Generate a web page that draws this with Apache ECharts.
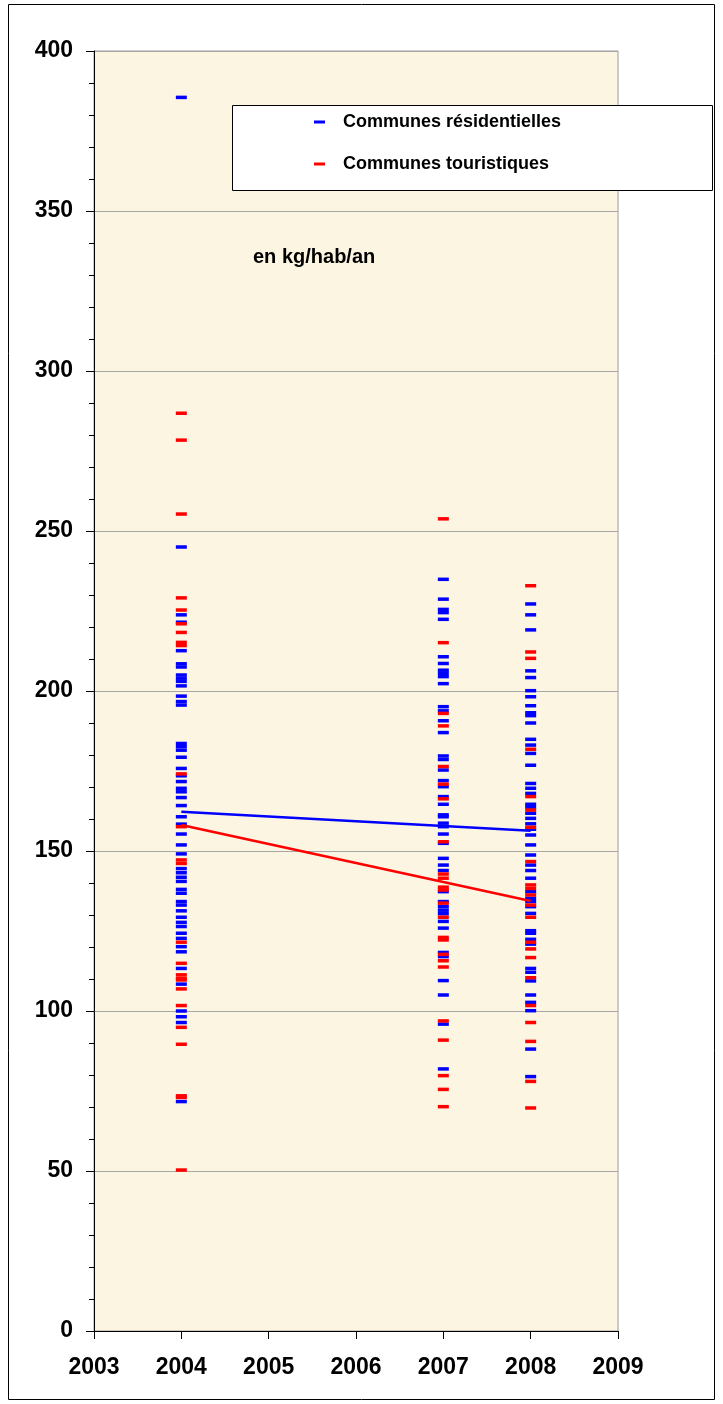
<!DOCTYPE html>
<html>
<head>
<meta charset="utf-8">
<script src="https://cdn.jsdelivr.net/npm/echarts@6/dist/echarts.min.js"></script>
<style>
  html, body { margin: 0; padding: 0; background: #ffffff; }
  #chart { width: 723px; height: 1404px; }
</style>
</head>
<body>
<div id="chart"></div>
<script>
// Household waste per inhabitant (kg/hab/an), one dash per commune
const years = [2004, 2007, 2008];

const residentielles2004 = [385.5, 245, 223.8, 221.5, 212.6, 208.5, 207.5, 205, 204, 203, 201.6, 198.4, 196.7, 195.6,
  183.6, 182.6, 181.5, 179.3, 175.8, 173.5, 171.7, 169.6, 168.5, 166.7, 164.2, 160.7, 158.4, 155.3, 151.9, 149.1,
  144.5, 143.2, 141.8, 140.5, 138, 136.8, 134.2, 133.1, 131.3, 129.3, 127.7, 126.4, 124.3, 122.7, 120.1, 118.5,
  113.3, 108.4, 100, 98.2, 96.4, 71.7];
const residentielles2007 = [234.9, 228.7, 225.5, 224.5, 222.4, 210.7, 208.6, 206.5, 205.5, 204.5, 202.3, 195.1, 193.8,
  190.7, 187, 179.7, 178.6, 175.3, 172, 170.1, 167, 164.6, 161.3, 160.7, 158.7, 157.6, 155.3, 152.4, 147.7, 145.6,
  143.9, 137.3, 134.2, 132.6, 131.5, 130.4, 128, 125.9, 118.3, 117, 109.5, 105, 95.9, 81.9];
const residentielles2008 = [227.2, 223.8, 219.1, 206.3, 204.2, 200.1, 198.2, 195.4, 193.2, 192.3, 190, 184.9, 183.1,
  180.5, 176.8, 171.1, 169.6, 168, 164.6, 163.7, 161.8, 160.2, 158.5, 156.8, 155, 151.9, 148.75, 145.6, 143.9, 141.5,
  137.3, 135.2, 134.2, 132.6, 130.5, 125.1, 124.3, 122.4, 120.9, 113.3, 112.1, 109.4, 105, 102.7, 100.1, 88.1, 79.5];

const touristiques2004 = [286.8, 278.4, 255.3, 229.1, 225.3, 221, 218.3, 215.2, 214.2, 174.1, 157.6, 147.2, 146.1,
  121.5, 114.9, 111.3, 110.2, 109.7, 106.9, 101.7, 94.9, 89.6, 73.5, 73.0, 50.3];
const touristiques2007 = [253.8, 215.1, 193, 189.1, 176.4, 170.9, 166.3, 152.9, 142.8, 141.5, 138.7, 137.8, 133.7,
  129.3, 123, 122.2, 117.7, 115.7, 113.75, 96.9, 90.9, 79.8, 75.5, 70.1];
const touristiques2008 = [232.9, 212.2, 210.2, 181.8, 167, 162.8, 157.4, 146.7, 139.4, 138.3, 136.25, 133.1, 129.3,
  121.5, 119.4, 116.7, 110.4, 101.7, 96.4, 90.5, 78, 69.7];

// Average per group and year
const moyenneResidentielles = [162.3, 157.8, 156.3];
const moyenneTouristiques = [158.1, 140.3, 134.4];

const seriesNames = ['Communes résidentielles', 'Communes touristiques'];
const unitLabel = 'en kg/hab/an';

function toPoints(year, values) {
  return values.map(v => [year, v]);
}
const resPoints = [].concat(
  toPoints(years[0], residentielles2004),
  toPoints(years[1], residentielles2007),
  toPoints(years[2], residentielles2008)
);
const touPoints = [].concat(
  toPoints(years[0], touristiques2004),
  toPoints(years[1], touristiques2007),
  toPoints(years[2], touristiques2008)
);
const resMean = years.map((y, i) => [y, moyenneResidentielles[i]]);
const touMean = years.map((y, i) => [y, moyenneTouristiques[i]]);

const FONT = '"Liberation Sans", Arial, sans-serif';
const chart = echarts.init(document.getElementById('chart'), null, { renderer: 'canvas' });

chart.setOption({
  animation: false,
  backgroundColor: '#ffffff',
  grid: {
    left: 94, right: 105, top: 51, bottom: 73,
    show: true,
    backgroundColor: '#fcf5e1',
    borderColor: '#9a9a9a',
    borderWidth: 1
  },
  xAxis: {
    type: 'value',
    min: 2003, max: 2009, interval: 1,
    axisLine: { show: true, onZero: false, lineStyle: { color: '#000', width: 1 } },
    axisTick: { show: true, length: 8, lineStyle: { color: '#000' } },
    axisLabel: {
      margin: 25,
      color: '#000',
      fontFamily: FONT, fontWeight: 'bold', fontSize: 23,
      formatter: v => String(v)
    },
    splitLine: { show: false }
  },
  yAxis: {
    type: 'value',
    min: 0, max: 400, interval: 50,
    axisLine: { show: true, lineStyle: { color: '#000', width: 1 } },
    axisTick: { show: true, length: 8, lineStyle: { color: '#000' } },
    minorTick: { show: true, splitNumber: 5, length: 5, lineStyle: { color: '#000' } },
    axisLabel: {
      margin: 21,
      color: '#000',
      fontFamily: FONT, fontWeight: 'bold', fontSize: 23
    },
    splitLine: { show: true, lineStyle: { color: '#a6a6a6', width: 1 } }
  },
  legend: {
    data: seriesNames.map(n => ({ name: n, icon: 'rect' })),
    orient: 'vertical',
    left: 309, top: 108,
    itemWidth: 11, itemHeight: 3,
    itemGap: 24,
    textStyle: { fontFamily: FONT, fontWeight: 'bold', fontSize: 18, color: '#000', padding: [0, 0, 0, 13] },
    z: 10
  },
  graphic: [
    {
      type: 'rect', z: 5,
      shape: { x: 8.5, y: 4.5, width: 706, height: 1395 },
      style: { fill: 'none', stroke: '#000', lineWidth: 1 }
    },
    {
      type: 'rect', z: 6,
      shape: { x: 232.5, y: 105.5, width: 480, height: 85 },
      style: { fill: '#ffffff', stroke: '#000', lineWidth: 1 }
    },
    {
      type: 'text', z: 6,
      left: 253, top: 247,
      style: { text: unitLabel, fill: '#000', font: 'bold 20px ' + FONT }
    }
  ],
  series: [
    {
      name: seriesNames[0], type: 'scatter', data: resPoints,
      symbol: 'rect', symbolSize: [11, 3.5],
      itemStyle: { color: '#0000ff', opacity: 1 }, z: 2
    },
    {
      name: seriesNames[1], type: 'scatter', data: touPoints,
      symbol: 'rect', symbolSize: [11, 3.5],
      itemStyle: { color: '#ff0000', opacity: 1 }, z: 3
    },
    {
      name: 'moyenne résidentielles', type: 'line', data: resMean,
      showSymbol: false, symbol: 'none',
      lineStyle: { color: '#0000ff', width: 2.5 }, z: 4
    },
    {
      name: 'moyenne touristiques', type: 'line', data: touMean,
      showSymbol: false, symbol: 'none',
      lineStyle: { color: '#ff0000', width: 2.5 }, z: 4
    }
  ]
});
</script>
</body>
</html>
